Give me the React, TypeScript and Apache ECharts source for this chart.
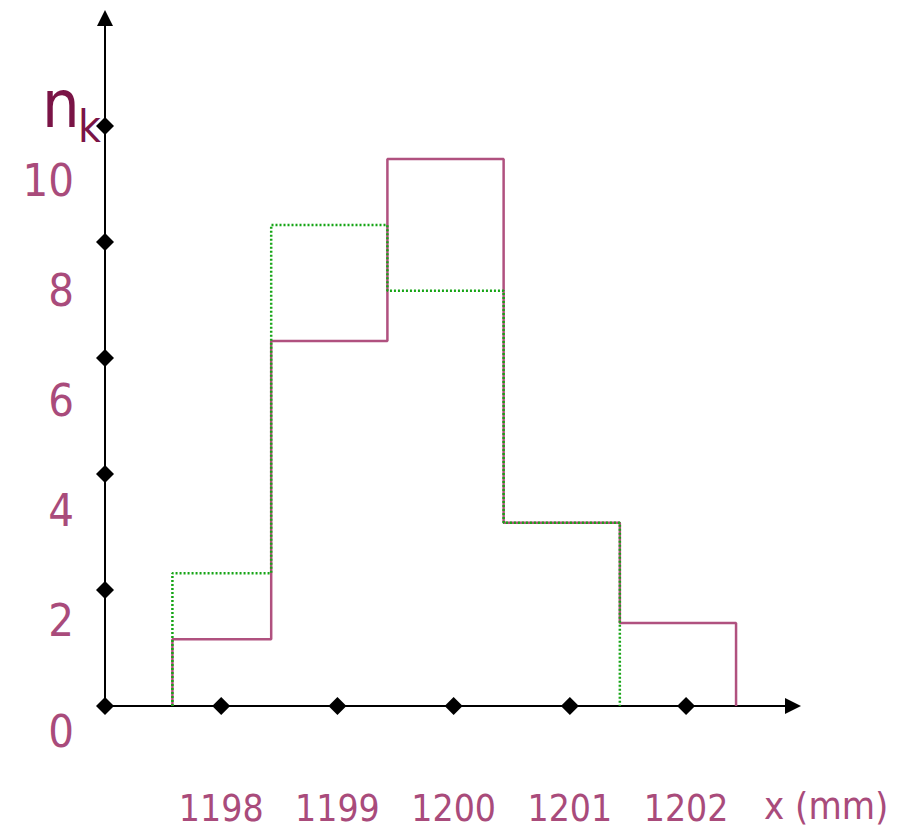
import React, { useEffect, useRef } from "react";
import * as echarts from "echarts";

// bin edges (mm) as drawn
const binEdges = [1197.58, 1198.43, 1199.43, 1200.43, 1201.43, 1202.43];
// purple (solid) histogram heights, in axis units
const purpleCounts = [1.15, 6.29, 9.43, 3.16, 1.43];
// green (dotted) histogram heights
const greenCounts = [2.29, 8.29, 7.16, 3.16];
// x tick positions (diamonds)
const xTicks = [1197, 1198, 1199, 1200, 1201, 1202];
// y tick positions (diamonds)
const yTicks = [2, 4, 6, 8, 10];
// y tick labels
const yLabels = [0, 2, 4, 6, 8, 10];

const LABEL_COLOR = "#A94B7B";
const PURPLE = "#B0517F";
const GREEN = "#16A516";
const FONT = "'Liberation Sans Narrow', 'DejaVu Sans Condensed', 'Liberation Sans', sans-serif";

function stepPoints(edges: number[], counts: number[]) {
  const pts: number[][] = [[edges[0], 0]];
  counts.forEach((c, i) => {
    pts.push([edges[i], c]);
    pts.push([edges[i + 1], c]);
  });
  pts.push([edges[counts.length], 0]);
  return pts;
}

export default function App() {
  const ref = useRef<HTMLDivElement>(null);
  useEffect(() => {
    if (!ref.current) return;
    const chart = echarts.init(ref.current, undefined, { renderer: "svg" });
    const diamonds = [
      ...xTicks.map((x) => [x, 0]),
      ...yTicks.map((y) => [xTicks[0], y]),
    ];
    chart.setOption({
      animation: false,
      backgroundColor: "#ffffff",
      grid: [
        { left: 105, right: 119, top: 18, bottom: 124 },
        { left: 82, width: 10, top: 180, bottom: 99 },
      ],
      xAxis: [
        {
          type: "value",
          gridIndex: 0,
          min: 1197,
          max: 1202.92,
          interval: 1,
          splitLine: { show: false },
          axisTick: { show: false },
          axisLine: {
            onZero: false,
            lineStyle: { color: "#000", width: 2 },
            symbol: ["none", "triangle"],
            symbolSize: [16, 16],
          },
          axisLabel: {
            margin: 102,
            verticalAlign: "middle",
            color: LABEL_COLOR,
            fontSize: 37,
            fontFamily: FONT,
            formatter: (v: number) =>
              Number.isInteger(v) && v > 1197 ? String(v) : "",
          },
        },
        { type: "value", gridIndex: 1, show: false, min: 0, max: 1 },
      ],
      yAxis: [
        {
          type: "value",
          gridIndex: 0,
          min: 0,
          max: 11.86,
          interval: 2,
          splitLine: { show: false },
          axisTick: { show: false },
          axisLabel: { show: false },
          axisLine: {
            show: true,
            lineStyle: { color: "#000", width: 2 },
            symbol: ["none", "triangle"],
            symbolSize: [16, 16],
          },
        },
        {
          type: "value",
          gridIndex: 1,
          min: 0,
          max: 10,
          interval: 2,
          splitLine: { show: false },
          axisTick: { show: false },
          axisLine: { show: false },
          axisLabel: {
            margin: 8,
            color: LABEL_COLOR,
            fontSize: 45,
            fontFamily: FONT,
            formatter: (v: number) => (yLabels.includes(v) ? String(v) : ""),
          },
        },
      ],
      graphic: [
        {
          type: "text",
          style: {
            text: "n",
            x: 42,
            y: 104,
            fill: "#7A1446",
            font: `66px ${FONT}`,
            verticalAlign: "middle",
          },
        },
        {
          type: "text",
          style: {
            text: "k",
            x: 78,
            y: 126,
            fill: "#7A1446",
            font: `44px ${FONT}`,
            verticalAlign: "middle",
          },
        },
        {
          type: "text",
          style: {
            text: "x (mm)",
            x: 764,
            y: 806,
            fill: LABEL_COLOR,
            font: `38px ${FONT}`,
            verticalAlign: "middle",
          },
        },
      ],
      series: [
        {
          type: "line",
          xAxisIndex: 0,
          yAxisIndex: 0,
          data: stepPoints(binEdges, purpleCounts),
          showSymbol: false,
          symbol: "none",
          lineStyle: { color: PURPLE, width: 2.5 },
          z: 3,
        },
        {
          type: "line",
          xAxisIndex: 0,
          yAxisIndex: 0,
          data: stepPoints(binEdges, greenCounts),
          showSymbol: false,
          symbol: "none",
          lineStyle: { color: GREEN, width: 2.5, type: [2, 2] },
          z: 4,
        },
        {
          type: "scatter",
          xAxisIndex: 0,
          yAxisIndex: 0,
          data: diamonds,
          symbol: "diamond",
          symbolSize: 18,
          itemStyle: { color: "#000", opacity: 1 },
          z: 5,
        },
      ],
    });
    return () => chart.dispose();
  }, []);
  return (
    <div
      ref={ref}
      style={{ position: "fixed", left: 0, top: 0, width: 912, height: 830 }}
    />
  );
}
